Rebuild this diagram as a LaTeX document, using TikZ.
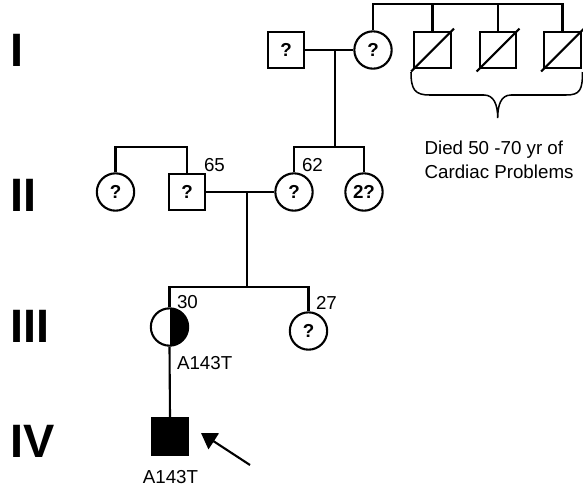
\documentclass[tikz,border=0pt]{standalone}
\usepackage{fontspec}
\setmainfont{Liberation Sans}
\usetikzlibrary{arrows.meta, calc}

\begin{document}
\begin{tikzpicture}[
  x=0.03cm, y=-0.03cm, line width=1.8pt,
  male/.style={draw, rectangle, minimum size=1.1cm, inner sep=0pt,
               font=\fontsize{16}{18}\selectfont\bfseries},
  female/.style={draw, circle, minimum size=1.12cm, inner sep=0pt,
                 font=\fontsize{16}{18}\selectfont\bfseries},
  affected/.style={male, fill=black},
  carrier/.style={female, path picture={\fill (path picture bounding box.north)
                  rectangle (path picture bounding box.south east);}},
  gen/.style={anchor=west, inner sep=0pt,
              font=\fontsize{40}{40}\selectfont\bfseries},
  lbl/.style={anchor=base west, inner sep=0pt,
              font=\fontsize{16}{18}\selectfont},
  pointer/.style={-{Triangle[length=13pt, width=16pt]}},
]
  \useasboundingbox (0,0) rectangle (583,492);

  % generation numbers
  \node[gen] (gI)   at (9, 50)    {I};
  \node[gen] (gII)  at (9, 195.5) {II};
  \node[gen] (gIII) at (9, 326.5) {III};
  \node[gen] (gIV)  at (9, 441)   {IV};

  % generation I
  \node[male]   (i1) at (286, 50)   {?};
  \node[female] (i2) at (373, 50)   {?};
  \node[male]   (d1) at (432.5, 50) {};
  \node[male]   (d2) at (498, 50)   {};
  \node[male]   (d3) at (562.5, 50) {};
  \foreach \d in {d1, d2, d3}
    \draw ($(\d.south west)+(-2,2)$) -- ($(\d.north east)+(2,-2)$);
  \draw (i2.north) -- ++(0,-26) -| (d3.north);
  \draw (d1.north) -- ++(0,-26);
  \draw (d2.north) -- ++(0,-26);
  \draw (i1) -- (i2);
  \coordinate (mar1) at (335, 50);
  \coordinate (sib2) at (335, 148);

  % brace and note
  \draw[line width=1.3pt] (411,72) .. controls (411,90) and (415,95) .. (430,95)
    -- (484,95) .. controls (494,95) and (497.7,105) .. (497.7,118)
    .. controls (497.7,105) and (501,95) .. (511,95)
    -- (566,95) .. controls (580,95) and (582.5,90) .. (582.5,72);
  \node[anchor=north west, inner sep=0pt, align=left,
        font=\fontsize{16}{21}\selectfont] (note) at (423.5, 139.5)
    {Died 50 -70 yr of\\Cardiac Problems};

  % generation II
  \node[female] (ii1) at (115.5, 192) {?};
  \node[male]   (ii2) at (187, 192)   {?};
  \node[female] (ii3) at (294, 192)   {?};
  \node[female] (ii4) at (364, 192)   {2?};
  \draw (ii1.north) -- ++(0,-25) -| (ii2.north);
  \draw (ii3.north) -- ++(0,-25) -| (ii4.north);
  \draw (mar1) -- (sib2);
  \draw (ii2) -- (ii3);
  \coordinate (mar2) at (247, 192);
  \coordinate (sib3) at (247, 287);
  \node[lbl] (age65) at (203, 171) {65};
  \node[lbl] (age62) at (301, 171) {62};

  % generation III
  \node[carrier] (iii1) at (169.5, 327) {};
  \node[female]  (iii2) at (308.5, 331) {?};
  \draw (mar2) -- (sib3);
  \draw (iii1.north) |- (sib3) -| (iii2.north);
  \node[lbl] (age30) at (176, 308) {30};
  \node[lbl] (age27) at (315, 309) {27};
  \node[lbl] (mut3)  at (176, 369) {A143T};

  % generation IV
  \node[affected] (iv1) at (170, 436.5) {};
  \draw (iii1.south) -- (iv1.north);
  \node[lbl, anchor=base] (mut4) at (170.5, 483) {A143T};
  \coordinate (arrtail) at (250, 465);
  \coordinate (arrtip)  at (201, 433);
  \draw[pointer] (arrtail) -- (arrtip);
\end{tikzpicture}
\end{document}
